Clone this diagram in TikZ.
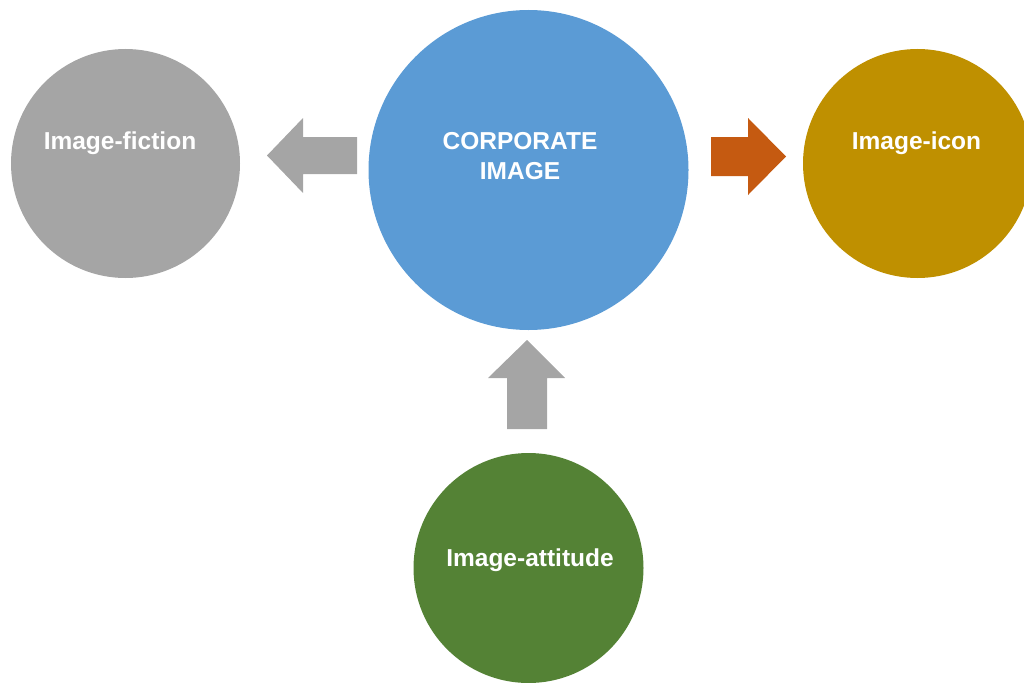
\documentclass[tikz,border=0pt]{standalone}
\usepackage{fontspec}
\setmainfont{Liberation Sans}
\definecolor{cgray}{HTML}{A5A5A5}
\definecolor{cblue}{HTML}{5B9BD5}
\definecolor{cgold}{HTML}{BF9000}
\definecolor{cgreen}{HTML}{548235}
\definecolor{corange}{HTML}{C55A11}
\tikzset{
  bubble/.style={circle, inner sep=0pt, draw=none},
  lbl/.style={text=white, font=\fontsize{24.5}{30}\selectfont\bfseries, anchor=base, inner sep=0pt, align=center},
  blockarrow/.style={draw=none}
}
\begin{document}
\begin{tikzpicture}[x=1pt,y=-1pt]
\useasboundingbox (0,0) rectangle (1024,682);
\clip (0,0) rectangle (1024,682);
\node[bubble, fill=cgray, minimum size=229pt] (fiction) at (125.5,163.5) {};
\node[bubble, fill=cblue, minimum size=320pt] (corp) at (528.5,170) {};
\node[bubble, fill=cgold, minimum size=229pt] (icon) at (917.5,163.5) {};
\node[bubble, fill=cgreen, minimum size=230pt] (attitude) at (528.5,568) {};
\node[lbl] (tfiction) at (120,149) {Image-fiction};
\node[lbl] (ticon) at (916.5,149) {Image-icon};
\node[lbl] (tattitude) at (530,566) {Image-attitude};
\node[lbl] (tcorp1) at (520,149) {CORPORATE};
\node[lbl] (tcorp2) at (520,179) {IMAGE};
% left arrow
\fill[cgray] (357,137) -- (303,137) -- (303,118) -- (267,155.5) -- (303,193) -- (303,174) -- (357,174) -- cycle;
% right arrow
\fill[corange] (711,137) -- (748,137) -- (748,118) -- (786,156.5) -- (748,195) -- (748,176) -- (711,176) -- cycle;
% up arrow
\fill[cgray] (507,429) -- (507,378) -- (488,378) -- (527,340) -- (565,378) -- (547,378) -- (547,429) -- cycle;
\end{tikzpicture}
\end{document}
